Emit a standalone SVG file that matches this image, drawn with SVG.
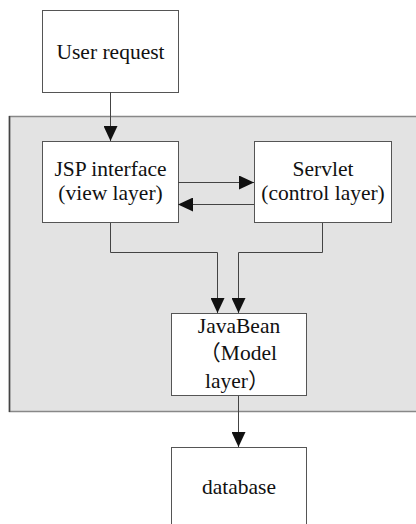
<svg xmlns="http://www.w3.org/2000/svg" width="416" height="524" viewBox="0 0 416 524">
<style>
.box{fill:#fff;stroke:#555;stroke-width:1}
.t{font-family:"Liberation Serif","Times New Roman","Noto Sans CJK SC",serif;font-size:21.5px;fill:#111}
.c{text-anchor:middle}
.ln{fill:none;stroke:#444;stroke-width:1}
</style>
<defs>
<marker id="ah" markerUnits="userSpaceOnUse" markerWidth="15" markerHeight="14" refX="15" refY="7" orient="auto">
<path d="M0,0 L15,7 L0,14 Z" fill="#111"/>
</marker>
</defs>
<rect width="416" height="524" fill="#fff"/>
<g id="container">
<rect x="9.5" y="116.5" width="420" height="295" fill="#e3e3e3" stroke="#888" stroke-width="1.5"/>
<line x1="9.5" y1="116" x2="9.5" y2="412" stroke="#444" stroke-width="1.5"/>
</g>
<g id="user-request">
<rect class="box" x="42.5" y="10.5" width="136" height="82"/>
<text class="t c" x="110.5" y="59">User request</text>
</g>
<g id="jsp">
<rect class="box" x="42.5" y="141.5" width="136" height="81"/>
<text class="t c" x="110.5" y="176">JSP interface</text>
<text class="t c" x="110.5" y="200">(view layer)</text>
</g>
<g id="servlet">
<rect class="box" x="254.5" y="141.5" width="137" height="81"/>
<text class="t c" x="323" y="176">Servlet</text>
<text class="t c" x="323" y="200">(control layer)</text>
</g>
<g id="javabean">
<rect class="box" x="171.5" y="313.5" width="135" height="82"/>
<text class="t c" x="239" y="333">JavaBean</text>
<text class="t" x="277" y="360" text-anchor="end">（Model</text>
<text class="t" x="205" y="388">layer）</text>
</g>
<g id="database">
<rect class="box" x="171.5" y="447.5" width="135" height="90"/>
<text class="t c" x="239" y="494">database</text>
</g>
<g id="connectors">
<path class="ln" d="M110.5,92 V141" marker-end="url(#ah)"/>
<path class="ln" d="M178,182.5 H254" marker-end="url(#ah)"/>
<path class="ln" d="M254,204.5 H178" marker-end="url(#ah)"/>
<path class="ln" d="M110.5,223 V252.5 H217.5 V313" marker-end="url(#ah)"/>
<path class="ln" d="M322.5,223 V252.5 H238.5 V313" marker-end="url(#ah)"/>
<path class="ln" d="M238.5,396 V447" marker-end="url(#ah)"/>
</g>
</svg>
